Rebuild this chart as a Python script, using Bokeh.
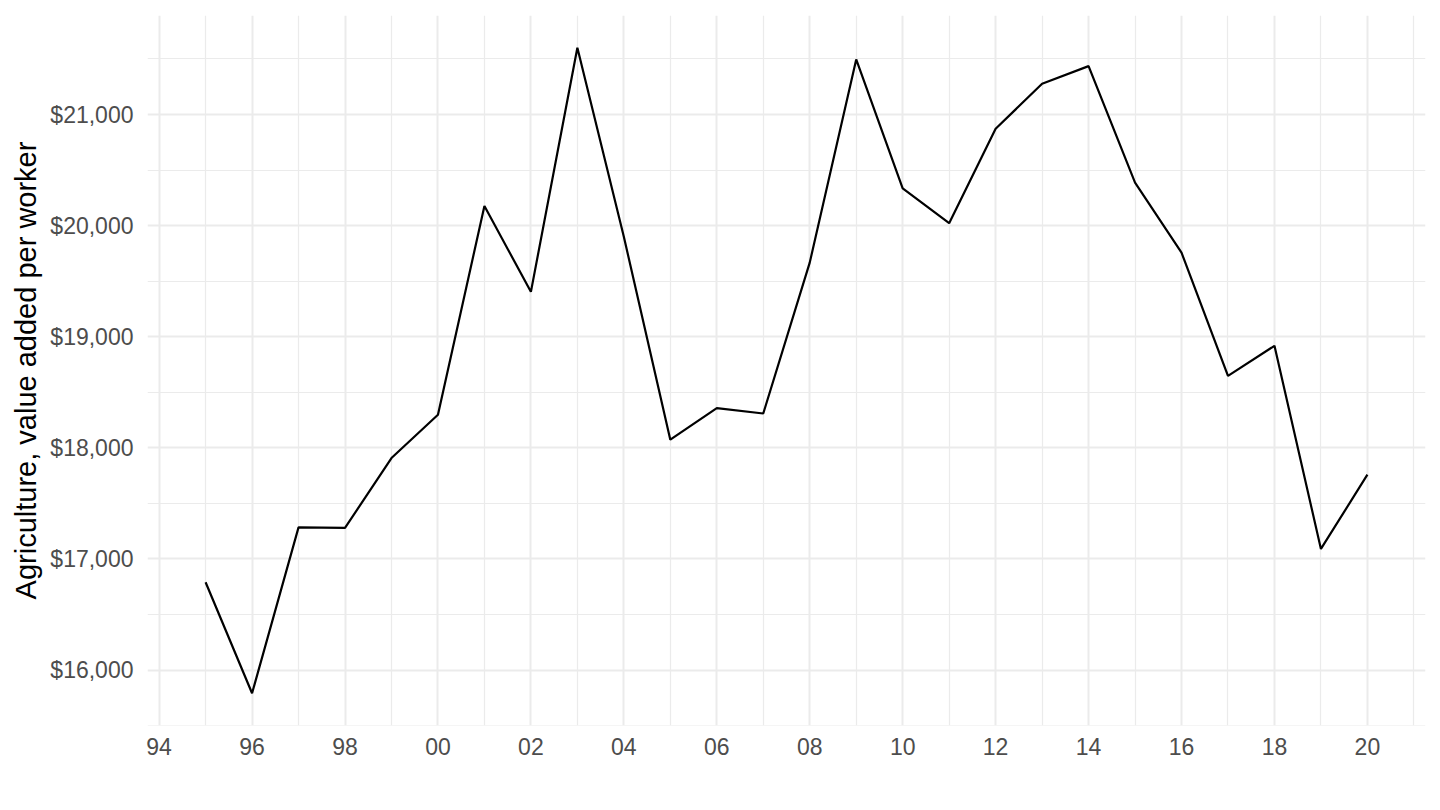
from bokeh.plotting import figure
from bokeh.models import Range1d, FixedTicker, NumeralTickFormatter
from bokeh.embed import file_html
from bokeh.resources import INLINE

years = list(range(1995, 2021))
values = [16790, 15791, 17284, 17279, 17908, 18298, 20177, 19404, 21601, 19900,
          18073, 18358, 18309, 19667, 21496, 20336, 20022, 20872, 21277, 21436,
          20387, 19757, 18648, 18918, 17090, 17758]

x_major = list(range(1994, 2021, 2))
x_labels = ["94", "96", "98", "00", "02", "04", "06", "08", "10", "12", "14", "16", "18", "20"]
x_minor = list(range(1995, 2022, 2))
y_major = [16000, 17000, 18000, 19000, 20000, 21000]
y_minor = [15500, 16500, 17500, 18500, 19500, 20500, 21500]
y_title = "Agriculture, value added per worker"

FONT = "Liberation Sans"

xmin, xmax = min(years), max(years)
xpad = (xmax - xmin) * 0.05
ymin, ymax = min(values), max(values)
ypad = (ymax - ymin) * 0.05

p = figure(width=1440, height=810, output_backend="svg", toolbar_location=None,
           x_range=Range1d(xmin - xpad, xmax + xpad),
           y_range=Range1d(ymin - ypad, ymax + ypad),
           min_border_left=147, min_border_right=15, min_border_top=15, min_border_bottom=85)
p.outline_line_color = None
p.background_fill_color = "white"
p.border_fill_color = "white"

p.line(years, values, line_color="black", line_width=2.2)

p.xaxis.ticker = FixedTicker(ticks=x_major, minor_ticks=x_minor)
p.xaxis.major_label_overrides = {t: l for t, l in zip(x_major, x_labels)}
p.yaxis.ticker = FixedTicker(ticks=y_major, minor_ticks=y_minor)
p.yaxis.formatter = NumeralTickFormatter(format="$0,0")

for ax in (p.xaxis, p.yaxis):
    ax.axis_line_color = None
    ax.major_tick_line_color = None
    ax.minor_tick_line_color = None
    ax.major_tick_out = 0
    ax.minor_tick_out = 0
    ax.major_label_text_font = FONT
    ax.major_label_text_font_size = "23px"
    ax.major_label_text_color = "#4D4D4D"

p.xaxis.major_label_standoff = 12
p.yaxis.major_label_standoff = 14

p.yaxis.axis_label = y_title
p.yaxis.axis_label_text_font = FONT
p.yaxis.axis_label_text_font_size = "29px"
p.yaxis.axis_label_text_font_style = "normal"
p.yaxis.axis_label_text_color = "black"
p.yaxis.axis_label_standoff = 5

for g in (p.xgrid, p.ygrid):
    g.grid_line_color = "#EBEBEB"
    g.grid_line_width = 2
    g.minor_grid_line_color = "#EBEBEB"
    g.minor_grid_line_width = 1.2

open("out.html", "w").write(file_html(p, INLINE))
